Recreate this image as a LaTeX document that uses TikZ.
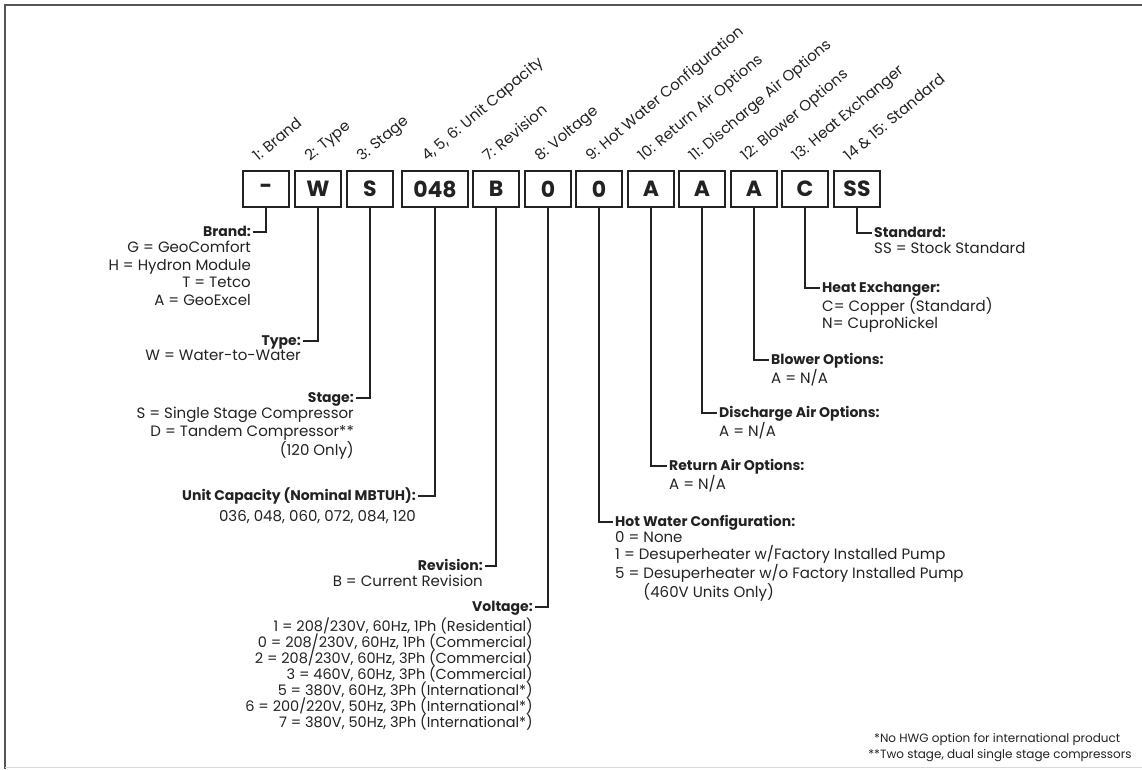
\documentclass[tikz,border=0pt]{standalone}
\usepackage{fontspec}
\setmainfont{Poppins}
\usetikzlibrary{calc}

\definecolor{ink}{HTML}{222222}
\definecolor{framegray}{HTML}{555555}

\newcommand{\bodyfont}{\fontsize{15}{17.5}\selectfont}
\newcommand{\tightfont}{\fontsize{14.5}{16}\selectfont\lineskiplimit=-20pt}
\newcommand{\slantfont}{\fontsize{15}{17.5}\selectfont}
\newcommand{\headfont}{\fontsize{14}{17.5}\selectfont\bfseries}
\newcommand{\codefont}{\fontsize{22}{26}\selectfont\bfseries}
\newcommand{\notefont}{\fontsize{12}{16}\selectfont}

\tikzset{
  codebox/.style={draw=ink, line width=2pt, minimum width=46pt, minimum height=36pt, inner sep=0pt, font=\codefont, text=ink},
  poslabel/.style={rotate=40, anchor=base west, inner sep=0pt, font=\slantfont, text=ink},
  headl/.style={anchor=east, font=\headfont, text=ink, inner xsep=2pt, inner ysep=0pt, text height=10pt, text depth=2pt},
  headr/.style={headl, anchor=west},
  bodyl/.style={anchor=north east, align=right, font=\bodyfont, text=ink, inner sep=0pt},
  bodyr/.style={bodyl, anchor=north west, align=left},
  leader/.style={draw=ink, line width=1.8pt},
}

\begin{document}
\begin{tikzpicture}[x=1pt,y=-1pt]
    \useasboundingbox (0,0) rectangle (1142,769);

    % frame
    \draw[framegray, line width=2pt] (1142,5) -| (5,769);
    \draw[black!15] (5,767.5) -- (1142,767.5);

    % code boxes
    \node[codebox] (brand) at (266,189) {-};
    \node[codebox] (type)  at (318,189) {W};
    \node[codebox] (stage) at (370,189) {S};
    \node[codebox, minimum width=66pt] (cap) at (435,189) {048};
    \node[codebox] (rev)   at (496,189) {B};
    \node[codebox] (volt)  at (548,189) {0};
    \node[codebox] (hw)    at (599,189) {0};
    \node[codebox] (ret)   at (651,189) {A};
    \node[codebox] (dis)   at (702,189) {A};
    \node[codebox] (blow)  at (754,189) {A};
    \node[codebox] (hx)    at (805,189) {C};
    \node[codebox] (std)   at (857,189) {SS};

    % digit positions
    \node[poslabel] (lbrand) at (258,162) {1: Brand};
    \node[poslabel] (ltype)  at (310,162) {2: Type};
    \node[poslabel] (lstage) at (362,162) {3: Stage};
    \node[poslabel] (lcap)   at (427,162) {4, 5, 6: Unit Capacity};
    \node[poslabel] (lrev)   at (488,162) {7: Revision};
    \node[poslabel] (lvolt)  at (540,162) {8: Voltage};
    \node[poslabel] (lhw)    at (591,162) {9: Hot Water Configuration};
    \node[poslabel] (lret)   at (643,162) {10: Return Air Options};
    \node[poslabel] (ldis)   at (694,162) {11: Discharge Air Options};
    \node[poslabel] (lblow)  at (746,162) {12: Blower Options};
    \node[poslabel] (lhx)    at (797,162) {13: Heat Exchanger};
    \node[poslabel] (lstd)   at (849,162) {14 \& 15: Standard};

    % left side
    \node[headl] (hbrand) at (253,232) {Brand:};
    \node[bodyl] (tbrand) at ($(hbrand.south east)+(-2,3)$) {G = GeoComfort\\H = Hydron Module\\T = Tetco\\A = GeoExcel};
    \draw[leader] (brand.south) |- (hbrand.east);

    \node[headl] (htype) at (303,341) {Type:};
    \node[bodyl] (ttype) at ($(htype.south east)+(-2,3)$) {W = Water-to-Water};
    \draw[leader] (type.south) |- (htype.east);

    \node[headl] (hstage) at (356,398) {Stage:};
    \node[bodyl] (tstage) at ($(hstage.south east)+(-2,3)$) {S = Single Stage Compressor\\D = Tandem Compressor**\\(120 Only)};
    \draw[leader] (stage.south) |- (hstage.east);

    \node[headl] (hcap) at (418,496) {Unit Capacity (Nominal MBTUH):};
    \node[bodyl] (tcap) at ($(hcap.south east)+(-2,8)$) {036, 048, 060, 072, 084, 120};
    \draw[leader] (cap.south) |- (hcap.east);

    \node[headl] (hrev) at (485,566) {Revision:};
    \node[bodyl] (trev) at ($(hrev.south east)+(-2,3)$) {B = Current Revision};
    \draw[leader] (rev.south) |- (hrev.east);

    \node[headl] (hvolt) at (535,607) {Voltage:};
    \node[bodyl, font=\tightfont] (tvolt) at ($(hvolt.south east)+(-2,4)$) {1 = 208/230V, 60Hz, 1Ph (Residential)\\0 = 208/230V, 60Hz, 1Ph (Commercial)\\2 = 208/230V, 60Hz, 3Ph (Commercial)\\3 = 460V, 60Hz, 3Ph (Commercial)\\5 = 380V, 60Hz, 3Ph (International*)\\6 = 200/220V, 50Hz, 3Ph (International*)\\7 = 380V, 50Hz, 3Ph (International*)};
    \draw[leader] (volt.south) |- (hvolt.east);

    % right side
    \node[headr] (hstd) at (872,233) {Standard:};
    \node[bodyr] (tstd) at ($(hstd.south west)+(2,3)$) {SS = Stock Standard};
    \draw[leader] (std.south) |- (hstd.west);

    \node[headr] (hhx) at (820,288) {Heat Exchanger:};
    \node[bodyr] (thx) at ($(hhx.south west)+(2,3)$) {C= Copper (Standard)\\N= CuproNickel};
    \draw[leader] (hx.south) |- (hhx.west);

    \node[headr] (hblow) at (769,360) {Blower Options:};
    \node[bodyr] (tblow) at ($(hblow.south west)+(2,3)$) {A = N/A};
    \draw[leader] (blow.south) |- (hblow.west);

    \node[headr] (hdis) at (717,413) {Discharge Air Options:};
    \node[bodyr] (tdis) at ($(hdis.south west)+(2,3)$) {A = N/A};
    \draw[leader] (dis.south) |- (hdis.west);

    \node[headr] (hret) at (667,466) {Return Air Options:};
    \node[bodyr] (tret) at ($(hret.south west)+(2,3)$) {A = N/A};
    \draw[leader] (ret.south) |- (hret.west);

    \node[headr] (hhw) at (613,522) {Hot Water Configuration:};
    \node[bodyr] (thw) at ($(hhw.south west)+(2,3)$) {0 = None\\1 = Desuperheater w/Factory Installed Pump\\5 = Desuperheater w/o Factory Installed Pump\\\phantom{5 = }(460V Units Only)};
    \draw[leader] (hw.south) |- (hhw.west);

    % footnotes
    \node[anchor=north west, align=left, inner sep=0pt, font=\notefont, text=ink] (note) at (874,733) {*No HWG option for international product\\\llap{*}*Two stage, dual single stage compressors};
\end{tikzpicture}
\end{document}
